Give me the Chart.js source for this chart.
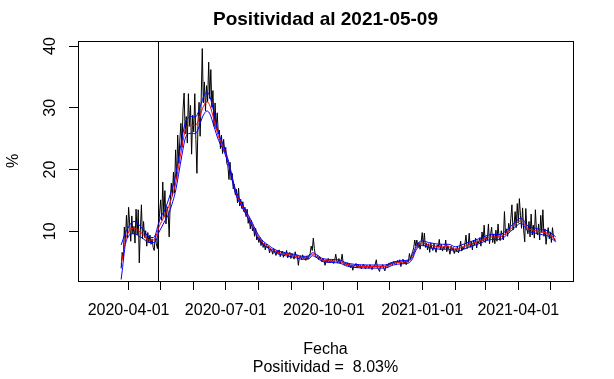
<!DOCTYPE html>
<html><head><meta charset="utf-8">
<script src="https://cdn.jsdelivr.net/npm/chart.js@4/dist/chart.umd.min.js"></script>
<style>html,body{margin:0;padding:0;background:#fff}canvas{display:block}</style>
</head><body>
<canvas id="c" width="614" height="379"></canvas>
<script>
// day offsets are counted from 2020-04-01
const startDay = -7;
const dailyPositivity = [
 4.0, 6.6, 5.5, 10.7, 8.2, 12.6, 9.0,
 13.9, 11.2, 8.4, 12.5, 9.6, 10.8, 8.1, 13.6, 9.4, 13.5,
 4.9, 10.2, 14.3, 8.8, 11.6, 9.0, 10.1, 7.6, 9.8, 8.2,
 9.4, 7.9, 8.8, 7.4, 6.9, 9.3, 8.0, 7.2, 10.8, 12.9,
 15.1, 11.8, 18.0, 12.4, 16.6, 11.2, 14.0, 13.2, 9.1, 14.8,
 17.8, 15.7, 19.6, 16.2, 23.2, 18.4, 25.6, 21.0, 24.8, 27.5,
 23.6, 29.8, 32.4, 25.8, 28.6, 24.3, 32.3, 27.0, 30.4, 22.5,
 28.8, 26.1, 32.3, 24.9, 19.4, 27.6, 30.9, 25.4, 31.6, 39.6,
 30.8, 34.2, 29.5, 33.6, 31.0, 37.4, 31.5, 36.2, 30.1, 32.8,
 27.0, 30.8, 26.6, 29.2, 25.8, 26.4, 23.4, 25.6, 22.6, 24.9,
 22.8, 23.6, 21.0, 20.6, 18.4, 21.2, 18.3, 19.4, 16.9, 17.6,
 15.9, 16.8, 14.6, 17.0, 14.1, 15.2, 13.7, 14.8, 13.2, 13.9,
 12.4, 13.6, 11.3, 12.2, 10.4, 11.8, 10.1, 10.6, 9.2, 10.5,
 8.6, 9.1, 8.2, 9.0, 7.7, 8.6, 7.4, 8.1, 7.0, 7.9,
 7.3, 7.6, 6.5, 7.2, 6.9, 6.3, 7.2, 6.6, 6.1, 6.9,
 6.4, 7.0, 5.9, 6.5, 6.8, 5.8, 6.6, 6.2, 6.9, 5.7,
 6.3, 6.6, 5.6, 6.4, 6.0, 5.5, 6.7, 5.9, 6.1, 4.5,
 5.9, 6.0, 5.4, 6.2, 5.6, 5.8, 5.3, 6.0, 5.5, 6.1,
 6.4, 7.6, 6.9, 8.9, 7.2, 6.0, 5.7, 6.1, 5.4, 5.9,
 5.5, 5.1, 5.6, 5.3, 4.5, 5.4, 5.0, 5.6, 4.9, 5.3,
 5.0, 5.5, 4.8, 5.3, 6.3, 5.2, 4.9, 5.6, 4.8, 5.2,
 6.3, 4.8, 4.6, 5.0, 4.5, 4.9, 4.3, 4.7, 4.1, 4.6,
 3.7, 4.5, 4.4, 4.8, 4.1, 4.6, 4.2, 4.5, 3.9, 4.4,
 4.7, 4.2, 3.9, 4.5, 4.3, 4.0, 4.6, 4.2, 3.8, 4.4,
 4.2, 4.7, 5.4, 4.1, 3.9, 3.5, 4.4, 4.2, 4.6, 4.0,
 3.6, 4.4, 4.7, 4.3, 4.9, 4.5, 5.0, 4.6, 5.1, 4.7,
 5.2, 4.8, 5.3, 4.9, 5.4, 4.3, 5.1, 5.5, 4.8, 5.2,
 4.6, 5.3, 5.0, 6.4, 5.4, 6.2, 6.7, 7.3, 8.6, 7.6,
 8.6, 7.4, 8.2, 7.1, 8.3, 9.8, 7.6, 9.7, 7.4, 8.1,
 7.0, 8.0, 6.6, 8.1, 7.3, 6.9, 8.0, 7.2, 6.6, 7.8,
 7.4, 8.7, 7.0, 7.9, 6.8, 7.5, 7.2, 8.6, 6.7, 7.7,
 7.1, 6.3, 7.6, 7.0, 7.4, 6.4, 7.2, 6.8, 7.6, 6.5,
 7.3, 8.4, 6.8, 7.5, 7.1, 8.0, 9.4, 7.2, 7.6, 9.7,
 7.4, 8.3, 7.0, 8.6, 7.8, 8.9, 7.3, 8.5, 8.1, 9.0,
 7.6, 9.9, 8.4, 11.0, 8.2, 9.1, 8.6, 11.2, 8.0, 9.4,
 10.7, 8.2, 9.6, 8.0, 10.2, 8.4, 11.2, 9.0, 8.5, 10.1,
 9.3, 8.6, 13.2, 9.5, 10.4, 9.2, 11.3, 10.0, 12.1, 14.3,
 10.2, 11.0, 13.2, 10.6, 14.5, 11.4, 15.3, 12.6, 10.5, 13.8,
 10.2, 8.3, 13.7, 10.4, 9.6, 11.6, 9.1, 12.8, 9.4, 11.0,
 8.9, 13.5, 10.0, 9.4, 11.2, 8.6, 12.6, 9.8, 13.5, 9.2,
 10.4, 7.9, 9.6, 10.6, 8.8, 9.9, 8.2, 10.6, 9.0, 8.6,
 8.4
];
const smoothDays = [-7,-6,-3,0,2,6,10,13,19,23,25,28,31,34,37.5,40.6,43.7,46.8,50,53,56,59,62.5,65,67,70,73.4,76.5,79.6,84.3,89,93.7,100,105,110,115,120,125,131,137,147,156,164,169,172,176,181,190,198,203,212,225,240,248,256,262,266,269,272,275,281,287,294,300,306,312,318,325,331,337,343,348,354,361,367,370,373,379,386,392,398,400];
const smoothValues = [4.8,5.4,8.6,9.9,10.5,10.5,10.0,9.6,8.6,8.6,8.9,10.5,11.6,12.6,14.0,15.6,17.5,20.5,23.7,26.3,27.1,27.2,27.1,27.8,28.8,30.2,31.0,30.2,28.3,25.3,23.5,21.0,16.5,14.6,13.0,11.4,9.6,8.3,7.5,6.8,6.3,6.0,5.7,5.8,6.3,6.0,5.4,5.2,5.1,4.7,4.4,4.3,4.3,4.8,5.0,5.1,5.9,7.2,7.9,8.1,7.8,7.6,7.5,7.5,7.1,7.4,7.8,8.2,8.6,9.0,9.1,9.1,9.8,10.9,11.7,11.4,10.6,10.2,9.9,9.7,9.0,8.7];
const bandUpper = [7.8,8.3,9.8,10.7,11.3,11.6,11.0,10.4,9.1,9.0,9.4,11.3,12.6,13.5,15.2,16.9,18.8,21.8,25.0,27.6,28.4,28.6,28.5,29.2,30.2,31.7,32.6,31.6,29.5,25.9,23.9,21.3,16.8,14.9,13.3,11.7,9.9,8.6,7.75,7.05,6.55,6.25,5.95,6.05,6.55,6.25,5.65,5.45,5.35,4.95,4.65,4.55,4.55,5.05,5.25,5.35,6.2,7.5,8.25,8.45,8.2,8.0,7.9,7.9,7.5,7.8,8.2,8.6,9.0,9.4,9.5,9.5,10.2,11.3,12.1,11.8,11.0,10.6,10.3,10.1,9.4,9.1];
const bandLower = [2.2,3.6,7.9,9.2,9.6,9.6,9.2,8.9,8.2,8.2,8.3,9.7,10.7,11.7,12.8,14.4,16.3,19.2,22.4,25.0,25.8,25.9,25.8,26.5,27.5,28.8,29.5,28.9,27.2,24.7,23.1,20.7,16.2,14.3,12.7,11.1,9.3,8.0,7.25,6.55,6.05,5.75,5.45,5.55,6.05,5.75,5.15,4.95,4.85,4.45,4.15,4.05,4.05,4.55,4.75,4.85,5.6,6.9,7.55,7.75,7.4,7.2,7.1,7.1,6.7,7.0,7.4,7.8,8.2,8.6,8.7,8.7,9.4,10.5,11.3,11.0,10.2,9.8,9.5,9.3,8.6,8.3];
const xTickDays = [0,30,61,91,122,153,183,214,244,275,306,334,365,395];
const xTickLabels = ['2020-04-01','','','2020-07-01','','','2020-10-01','','','2021-01-01','','','2021-04-01',''];
const yTicks = [10,20,30,40];
const eventDay = 28;
const titleText = 'Positividad al 2021-05-09';
const xTitle = 'Fecha';
const subTitle = 'Positividad =  8.03%';
const yTitle = '%';

const FONT = "'Liberation Sans', Arial, sans-serif";
const pts = (xs, ys) => xs.map((x, i) => ({x: x, y: ys[i]}));
const dailyPts = dailyPositivity.map((v, i) => ({x: startDay + i, y: v}));

const framePlugin = {
  id: 'frame',
  afterDraw(chart) {
    const ctx = chart.ctx, a = chart.chartArea;
    const ys = chart.scales.y;
    ctx.save();
    ctx.strokeStyle = '#000'; ctx.lineWidth = 1;
    const l = Math.round(a.left) + 0.5, t = Math.round(a.top) + 0.5;
    const r = Math.round(a.right) + 0.5, b = Math.round(a.bottom) + 0.5;
    ctx.strokeRect(l, t, r - l, b - t);
    ctx.fillStyle = '#000';
    ctx.textAlign = 'center'; ctx.textBaseline = 'middle';
    ctx.font = 'bold 19px ' + FONT;
    const cx = (a.left + a.right) / 2;
    ctx.fillText(titleText, cx, 20);
    ctx.font = '16px ' + FONT;
    ctx.fillText(xTitle, cx, 350);
    ctx.fillText(subTitle, cx, 368);
    yTicks.forEach(v => {
      ctx.save();
      ctx.translate(51, ys.getPixelForValue(v));
      ctx.rotate(-Math.PI / 2);
      ctx.fillText(String(v), 0, 0);
      ctx.restore();
    });
    ctx.save();
    ctx.translate(14, (a.top + a.bottom) / 2);
    ctx.rotate(-Math.PI / 2);
    ctx.fillText(yTitle, 0, 0);
    ctx.restore();
    ctx.restore();
  }
};

const common = {pointRadius: 0, borderWidth: 1, fill: false};
new Chart(document.getElementById('c').getContext('2d'), {
  type: 'line',
  data: {datasets: [
    Object.assign({label: 'upper', data: pts(smoothDays, bandUpper), borderColor: '#0000ff', cubicInterpolationMode: 'monotone', order: 0}, common),
    Object.assign({label: 'lower', data: pts(smoothDays, bandLower), borderColor: '#0000ff', cubicInterpolationMode: 'monotone', order: 0}, common),
    Object.assign({label: 'smooth', data: pts(smoothDays, smoothValues), borderColor: '#ff0000', cubicInterpolationMode: 'monotone', order: 1}, common),
    Object.assign({label: 'daily', data: dailyPts, borderColor: '#000000', tension: 0, order: 2}, common),
    Object.assign({label: 'event', data: [{x: eventDay, y: -100}, {x: eventDay, y: 100}], borderColor: '#000000', order: 3}, common)
  ]},
  options: {
    responsive: false, animation: false, devicePixelRatio: 1,
    layout: {padding: {left: 0, right: 41, top: 41, bottom: 0}},
    plugins: {legend: {display: false}, tooltip: {enabled: false}, title: {display: false}},
    scales: {
      x: {
        type: 'linear', min: -47.39, max: 416.21,
        afterBuildTicks: s => { s.ticks = xTickDays.map(v => ({value: v})); },
        afterFit: s => { s.height = 98; },
        grid: {drawOnChartArea: false, drawTicks: true, tickLength: 9, color: '#000', lineWidth: 1},
        border: {display: false},
        ticks: {autoSkip: false, maxRotation: 0, minRotation: 0, padding: 11, color: '#000',
          font: {family: FONT, size: 16},
          callback: v => { const i = xTickDays.indexOf(v); return i >= 0 ? xTickLabels[i] : ''; }}
      },
      y: {
        type: 'linear', min: 1.96, max: 40.83,
        afterBuildTicks: s => { s.ticks = yTicks.map(v => ({value: v})); },
        afterFit: s => { s.width = 78; },
        grid: {drawOnChartArea: false, drawTicks: true, tickLength: 9, color: '#000', lineWidth: 1},
        border: {display: false},
        ticks: {display: false}
      }
    }
  },
  plugins: [framePlugin]
});
</script>
</body></html>
